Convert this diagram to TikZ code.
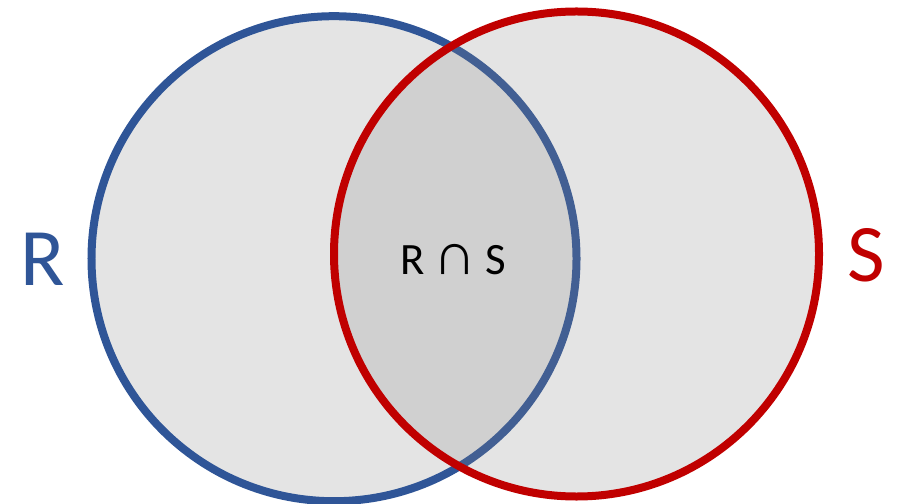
\documentclass[tikz,border=0pt]{standalone}
\usepackage{fontspec}
\setmainfont{Carlito}
\newfontfamily\symfont{Liberation Sans}
\definecolor{setblue}{HTML}{2F5597}
\definecolor{setred}{HTML}{C00000}
\definecolor{setfill}{HTML}{868686}
\begin{document}
\begin{tikzpicture}[x=1bp,y=-1bp,
  setdisk/.style={line width=8bp, fill=setfill, fill opacity=0.22},
  setlabel/.style={font=\fontsize{82}{82}\selectfont, inner sep=0pt, anchor=center}]
  \useasboundingbox (0,0) rectangle (899,504);
  % set R
  \node[setdisk, draw=setblue, circle, minimum size=485bp, inner sep=0pt] (R) at (334,258.7) {};
  % set S, drawn on top so its fill tints R's outline
  \node[setdisk, draw=setred, circle, minimum size=485bp, inner sep=0pt] (S) at (576.5,254) {};
  \node[setlabel, text=setblue] (Rlab) at (42.5,259.5) {R};
  \node[setlabel, text=setred] (Slab) at (866,255) {S};
  \node[font=\fontsize{45}{45}\selectfont, inner sep=0pt] (RS) at (453.5,259.5)
    {R\hspace{0.2em}{\symfont\fontsize{60}{60}\selectfont ∩}\hspace{0.2em}S};
\end{tikzpicture}
\end{document}
